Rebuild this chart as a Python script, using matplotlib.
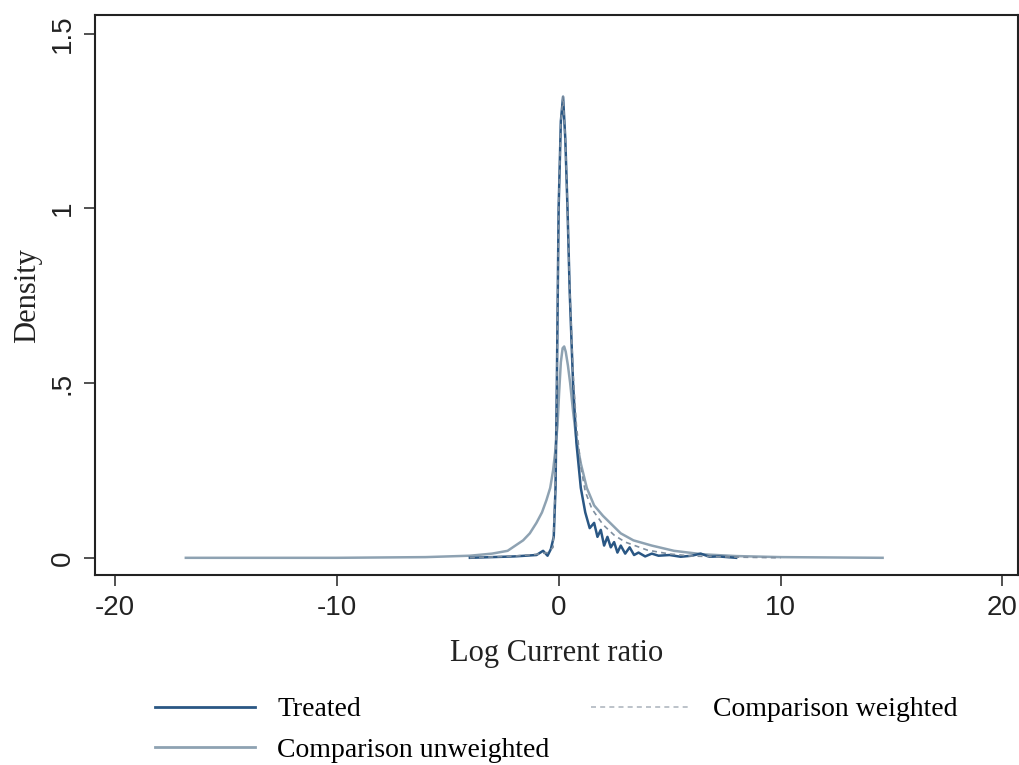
import matplotlib
matplotlib.use("Agg")
import matplotlib.pyplot as plt
from matplotlib.lines import Line2D

plt.rcParams["axes.unicode_minus"] = False

# kernel density estimates of log current ratio
treated_x = [-4.0, -3.0, -2.0, -1.5, -1.0, -0.7, -0.5, -0.35, -0.22, -0.14, -0.08, 0.0,
             0.1, 0.2, 0.3, 0.4, 0.5, 0.65, 0.8, 1.0, 1.2, 1.4, 1.6, 1.75, 1.9, 2.05,
             2.2, 2.35, 2.5, 2.65, 2.8, 3.0, 3.2, 3.4, 3.6, 3.9, 4.2, 4.5, 5.0, 5.5,
             6.0, 6.4, 6.8, 7.2, 8.0]
treated_y = [0.0, 0.002, 0.004, 0.006, 0.008, 0.02, 0.006, 0.025, 0.06, 0.2, 0.5, 1.0,
             1.25, 1.32, 1.2, 1.0, 0.76, 0.5, 0.33, 0.2, 0.13, 0.085, 0.1, 0.06, 0.08, 0.035,
             0.06, 0.03, 0.045, 0.015, 0.035, 0.012, 0.03, 0.008, 0.015, 0.004, 0.012, 0.006, 0.008, 0.003,
             0.006, 0.012, 0.003, 0.004, 0.0]

unweighted_x = [-16.8, -10.0, -6.0, -4.0, -3.0, -2.3, -1.6, -1.3, -1.0, -0.75, -0.55, -0.38,
                -0.25, -0.16, -0.05, 0.02, 0.1, 0.18, 0.25, 0.32, 0.42, 0.52, 0.65, 0.8, 1.0,
                1.27, 1.6, 2.0, 2.32, 2.8, 3.37, 4.2, 5.2, 6.5, 8.0, 10.0, 14.6]
unweighted_y = [0.0, 0.0, 0.002, 0.006, 0.012, 0.02, 0.05, 0.07, 0.1, 0.13, 0.165, 0.2,
                0.25, 0.3, 0.38, 0.47, 0.56, 0.6, 0.605, 0.59, 0.55, 0.5, 0.42, 0.34, 0.27,
                0.2, 0.15, 0.12, 0.1, 0.07, 0.05, 0.035, 0.02, 0.01, 0.005, 0.002, 0.0]

weighted_x = [-4.0, -2.0, -1.0, -0.5, -0.25, -0.15, -0.08, 0.0, 0.1, 0.2, 0.3, 0.4, 0.5,
              0.65, 0.8, 1.0, 1.2, 1.5, 2.0, 2.5, 3.0, 4.0, 5.0, 6.0, 8.0, 10.0]
weighted_y = [0.0, 0.005, 0.01, 0.015, 0.03, 0.2, 0.5, 1.0, 1.25, 1.32, 1.2, 1.0, 0.77,
              0.53, 0.38, 0.26, 0.19, 0.14, 0.095, 0.065, 0.045, 0.022, 0.011, 0.005, 0.002, 0.0]

x_ticks = [-20, -10, 0, 10, 20]
y_ticks = [0, 0.5, 1, 1.5]
y_tick_labels = ["0", ".5", "1", "1.5"]

NAVY = "#2a5784"
GREYBLUE = "#8ea2b2"
DASH = "#7f8fa0"

sans = ["Liberation Sans", "DejaVu Sans"]
serif = ["Liberation Serif", "DejaVu Serif"]

fig = plt.figure(figsize=(10.2, 7.65), dpi=100)
ax = fig.add_axes([0.093, 0.248, 0.905, 0.732])

ax.plot(unweighted_x, unweighted_y, color=GREYBLUE, lw=1.8)
ax.plot(treated_x, treated_y, color=NAVY, lw=1.8)
ax.plot(weighted_x, weighted_y, color=DASH, lw=1.2, dashes=(3, 2.5))

ax.set_xlim(-20.9, 20.7)
ax.set_ylim(-0.05, 1.553)
ax.set_xticks(x_ticks)
ax.set_yticks(y_ticks)
ax.set_yticklabels(y_tick_labels, rotation=90, va="center")
ax.tick_params(length=8, width=1.2, color="#333333", labelsize=20, pad=6)
for lab in ax.get_xticklabels() + ax.get_yticklabels():
    lab.set_family(sans)
    lab.set_color("#222222")
for s in ax.spines.values():
    s.set_linewidth(1.5)
    s.set_color("#222222")

ax.set_xlabel("Log Current ratio", family=serif, fontsize=22, color="#222222", labelpad=13)
ax.set_ylabel("Density", family=serif, fontsize=22, color="#222222", labelpad=5)

handles = [
    Line2D([], [], color=NAVY, lw=2),
    Line2D([], [], color=GREYBLUE, lw=2),
    Line2D([], [], color="#b0b8c0", lw=1.2, dashes=(3, 2.5)),
]
labels = ["Treated", "Comparison unweighted", "Comparison weighted"]
fig.legend(handles, labels, ncol=2, loc="upper left", bbox_to_anchor=(0.152, 0.089),
           frameon=False, prop={"family": serif, "size": 20},
           handlelength=3.6, handletextpad=0.8, columnspacing=1.5,
           labelspacing=0.55, borderpad=0, borderaxespad=0)

fig.savefig("out.png", dpi=100)
